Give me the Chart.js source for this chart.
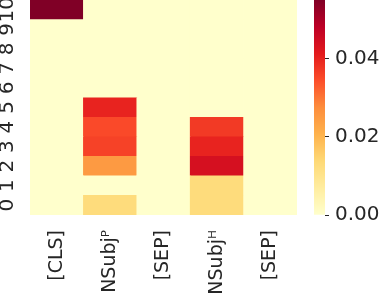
<!DOCTYPE html>
<html lang="en">
<head>
<meta charset="UTF-8" />
<title>Attention heatmap</title>
<script src="https://cdn.jsdelivr.net/npm/chart.js@4.4.1/dist/chart.umd.min.js"></script>
<style>
    html, body { margin: 0; padding: 0; background: #fff; }
    body { width: 380px; height: 300px; position: relative; overflow: hidden; }
    #heat-wrap { position: absolute; left: 0; top: 0; width: 305px; height: 300px; }
    #bar-wrap { position: absolute; left: 305px; top: 0; width: 75px; height: 300px; }
</style>
</head>
<body>
<div id="heat-wrap"><canvas id="heat"></canvas></div>
<div id="bar-wrap"><canvas id="cbar"></canvas></div>
<script>
// tokens along x, layers along y (0 at bottom)
const tokens = ["[CLS]", "NSubjᴾ", "[SEP]", "NSubjᴴ", "[SEP]"];
const layers = [0, 1, 2, 3, 4, 5, 6, 7, 8, 9, 10];

// one array per token, index = layer
const clsVals   = [0, 0, 0, 0, 0, 0, 0, 0, 0, 0, 0.055];
const subjPVals = [0.0127, 0, 0.025, 0.036, 0.035, 0.040, 0, 0, 0, 0, 0];
const sep1Vals  = [0, 0, 0, 0, 0, 0, 0, 0, 0, 0, 0];
const subjHVals = [0.0127, 0.0127, 0.0438, 0.040, 0.037, 0, 0, 0, 0, 0, 0];
const sep2Vals  = [0, 0, 0, 0, 0, 0, 0, 0, 0, 0, 0];

const colorbarTicks = [0, 0.02, 0.04];
const vmax = 0.055;

const columns = [clsVals, subjPVals, sep1Vals, subjHVals, sep2Vals];

// YlOrRd stops
const ylOrRd = ["#ffffcc", "#ffeda0", "#fed976", "#feb24c", "#fd8d3c",
                "#fc4e2a", "#e31a1c", "#bd0026", "#800026"];

function hexToRgb(h) {
    return [parseInt(h.slice(1, 3), 16), parseInt(h.slice(3, 5), 16), parseInt(h.slice(5, 7), 16)];
}

function colorFor(v) {
    let t = Math.max(0, Math.min(1, v / vmax)) * (ylOrRd.length - 1);
    let i = Math.min(Math.floor(t), ylOrRd.length - 2);
    let f = t - i;
    let a = hexToRgb(ylOrRd[i]), b = hexToRgb(ylOrRd[i + 1]);
    let c = a.map((x, k) => Math.round(x + (b[k] - x) * f));
    return "rgb(" + c.join(",") + ")";
}

const textColor = "#262626";

Chart.defaults.color = textColor;
Chart.defaults.animation = false;

new Chart("heat", {
    type: "bar",
    data: {
        labels: tokens,
        datasets: layers.map((l) => ({
            label: "layer " + l,
            data: tokens.map(() => 1),
            backgroundColor: columns.map((col) => colorFor(col[l])),
            borderWidth: 0,
            barPercentage: 1,
            categoryPercentage: 1,
            stack: "s",
        })),
    },
    options: {
        responsive: true,
        maintainAspectRatio: false,
        layout: { padding: { left: 0, top: 0, right: 8, bottom: 0 } },
        plugins: { legend: { display: false }, tooltip: { enabled: false } },
        scales: {
            x: {
                stacked: true,
                grid: { display: false, drawTicks: false },
                border: { display: false },
                ticks: {
                    minRotation: 90,
                    maxRotation: 90,
                    autoSkip: false,
                    padding: 15,
                    font: { family: "'DejaVu Sans'", size: 19 },
                    color: textColor,
                },
                afterFit: (s) => {
                    s.height = 85;
                    s.paddingLeft = 0;
                    s.paddingRight = 0;
                },
            },
            y: {
                stacked: true,
                min: 0,
                max: layers.length,
                grid: { display: false, drawTicks: false },
                border: { display: false },
                afterBuildTicks: (s) => {
                    s.ticks = layers.map((l) => ({ value: l + 0.5 }));
                },
                ticks: {
                    minRotation: 90,
                    maxRotation: 90,
                    autoSkip: false,
                    crossAlign: "center",
                    padding: 9,
                    font: { family: "'DejaVu Sans'", size: 20 },
                    color: textColor,
                    callback: (v) => String(v - 0.5),
                },
                afterFit: (s) => {
                    s.width = 30;
                    s.paddingTop = 0;
                    s.paddingBottom = 0;
                },
            },
        },
    },
});

// colour bar
new Chart("cbar", {
    type: "bar",
    data: {
        labels: [""],
        datasets: [{
            data: [vmax],
            borderWidth: 0,
            barPercentage: 1,
            categoryPercentage: 1,
            backgroundColor: (ctx) => {
                const area = ctx.chart.chartArea;
                if (!area) return ylOrRd[0];
                const g = ctx.chart.ctx.createLinearGradient(0, area.bottom, 0, area.top);
                ylOrRd.forEach((c, i) => g.addColorStop(i / (ylOrRd.length - 1), c));
                return g;
            },
        }],
    },
    options: {
        responsive: true,
        maintainAspectRatio: false,
        layout: { padding: { left: 9, top: 0, right: 0, bottom: 85 } },
        plugins: { legend: { display: false }, tooltip: { enabled: false } },
        scales: {
            x: { display: false },
            y: {
                position: "right",
                min: 0,
                max: vmax,
                border: { display: false },
                grid: {
                    drawOnChartArea: false,
                    drawTicks: true,
                    tickLength: 4,
                    tickColor: textColor,
                    lineWidth: 1,
                },
                afterBuildTicks: (s) => {
                    s.ticks = colorbarTicks.map((v) => ({ value: v }));
                },
                ticks: {
                    padding: 6,
                    font: { family: "'DejaVu Sans'", size: 20 },
                    color: textColor,
                    callback: (v) => v.toFixed(2),
                },
                afterFit: (s) => {
                    s.width = 55;
                    s.paddingTop = 0;
                    s.paddingBottom = 0;
                },
            },
        },
    },
});
</script>
</body>
</html>
